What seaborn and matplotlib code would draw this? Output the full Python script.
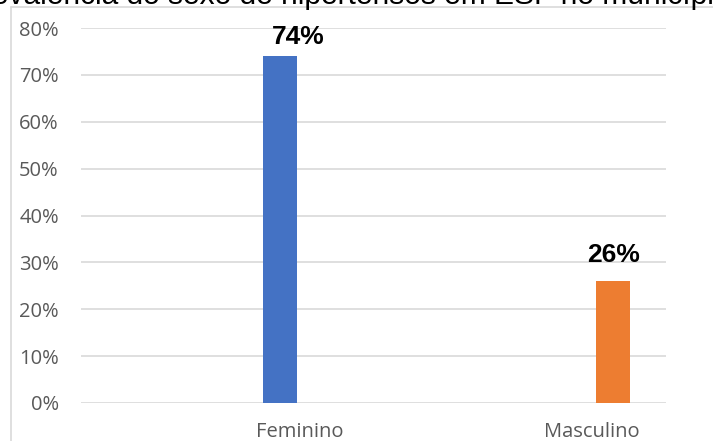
import matplotlib
matplotlib.use("Agg")
import matplotlib.pyplot as plt
import seaborn as sns
import pandas as pd
from matplotlib.lines import Line2D

categories = ["Feminino", "Masculino"]
values = [0.74, 0.26]
value_labels = ["74%", "26%"]
colors = ["#4472C4", "#ED7D31"]
yticks = [0.0, 0.1, 0.2, 0.3, 0.4, 0.5, 0.6, 0.7, 0.8]
ytick_labels = ["0%", "10%", "20%", "30%", "40%", "50%", "60%", "70%", "80%"]
title = "Prevalência do sexo de hipertensos em ESF no município"

W, H = 713, 441
sns.set_theme(style="white")
plt.rcParams["font.family"] = ["DejaVu Sans"]

fig = plt.figure(figsize=(W / 100, H / 100), dpi=100)
ax_left, ax_right = 81, 666
ax_top, ax_bottom = 28, 403
ax = fig.add_axes([ax_left / W, (H - ax_bottom) / H, (ax_right - ax_left) / W, (ax_bottom - ax_top) / H])

df = pd.DataFrame({"sexo": categories, "valor": values})
sns.barplot(data=df, x="sexo", y="valor", hue="sexo", palette=colors,
            width=0.102, legend=False, ax=ax, saturation=1, linewidth=0)

# layout: bar 0 at px 280, bar 1 at px 613
px_per_unit = 333.0
x0 = 280.0
ax.set_xlim((ax_left - x0) / px_per_unit, (ax_right - x0) / px_per_unit)
ax.set_ylim(0, 0.8)

ax.set_yticks(yticks)
ax.set_yticklabels(ytick_labels, fontfamily="Open Sans", fontsize=14.5, color="#595959")
ax.tick_params(axis="y", length=0, pad=16)

label_pos = [(300 - x0) / px_per_unit, (592 - x0) / px_per_unit]
ax.set_xticks(label_pos)
ax.set_xticklabels(categories, fontfamily="Open Sans", fontsize=14.5, color="#595959")
ax.tick_params(axis="x", length=0, pad=14)

ax.set_xlabel("")
ax.set_ylabel("")
ax.grid(axis="y", color="#D9D9D9", linewidth=1.2)
ax.set_axisbelow(True)
for s in ax.spines.values():
    s.set_visible(False)

# data labels
label_dx = [(298 - 280) / px_per_unit, (614 - 613) / px_per_unit]
label_dy = [0.026, 0.041]
for i, (v, t) in enumerate(zip(values, value_labels)):
    ax.text(i + label_dx[i], v + label_dy[i], t, ha="center", va="baseline",
            fontfamily="Liberation Sans", fontweight="bold", fontsize=19, color="black")

# chart area border (left and top)
fig.add_artist(Line2D([11 / W, 11 / W], [0, (H - 7) / H], color="#D9D9D9", linewidth=1.2))
fig.add_artist(Line2D([11 / W, 1], [(H - 7) / H, (H - 7) / H], color="#D9D9D9", linewidth=1.2))

# title (clipped by the top edge as in the reference)
fig.text(-38 / W, (H - 4) / H, title, ha="left", va="baseline",
         fontfamily="Liberation Sans", fontsize=21.5, color="black")

fig.savefig("out.png", dpi=100)
